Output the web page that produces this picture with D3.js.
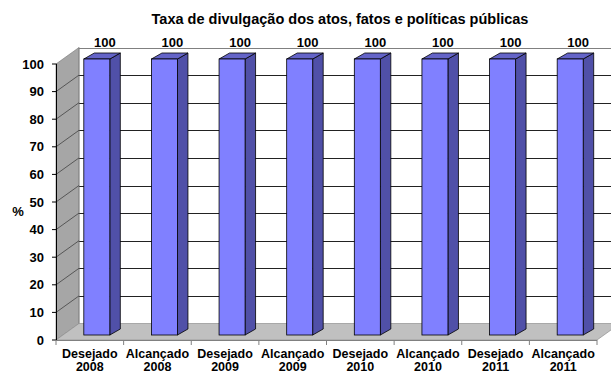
<!DOCTYPE html>
<html>
<head>
<meta charset="utf-8">
<script src="https://cdn.jsdelivr.net/npm/d3@7"></script>
<style>
  body { margin: 0; background: #fff; }
  text { font-family: "Liberation Sans", Arial, sans-serif; font-weight: bold; fill: #000; }
</style>
</head>
<body>
<div id="chart"></div>
<script>
// chart data
var categoryNames = ["Desejado", "Alcançado", "Desejado", "Alcançado", "Desejado", "Alcançado", "Desejado", "Alcançado"];
var categoryYears = ["2008", "2008", "2009", "2009", "2010", "2010", "2011", "2011"];
var values = [100, 100, 100, 100, 100, 100, 100, 100];
var yTicks = [0, 10, 20, 30, 40, 50, 60, 70, 80, 90, 100];
var title = "Taxa de divulgação dos atos, fatos e políticas públicas";

var width = 611, height = 371;
var depth = {x: 23, y: -16.5};      // wall depth
var barOff = {x: 7, y: -5};         // bar front face offset from front plane
var barDepth = {x: 10.5, y: -6};
var barW = 26;

var svg = d3.select("#chart").append("svg")
    .attr("width", width)
    .attr("height", height);

var x = d3.scaleBand()
    .domain(d3.range(values.length))
    .range([56, 597])
    .padding(0);

var y = d3.scaleLinear()
    .domain([0, 100])
    .range([340, 64]);

// title
svg.append("text")
    .attr("x", 340)
    .attr("y", 24)
    .attr("text-anchor", "middle")
    .style("font-size", "14.5px")
    .text(title);

// side wall
svg.append("path")
    .attr("d", "M" + x.range()[0] + "," + y(100) +
        "L" + (x.range()[0] + depth.x) + "," + (y(100) + depth.y) +
        "L" + (x.range()[0] + depth.x) + "," + (y(0) + depth.y) +
        "L" + x.range()[0] + "," + y(0) + "Z")
    .attr("fill", "#a6a6a6")
    .attr("stroke", "#808080")
    .attr("stroke-width", 0.7);

// floor
svg.append("path")
    .attr("d", "M" + x.range()[0] + "," + y(0) +
        "L" + x.range()[1] + "," + y(0) +
        "L" + (x.range()[1] + depth.x) + "," + (y(0) + depth.y) +
        "L" + (x.range()[0] + depth.x) + "," + (y(0) + depth.y) + "Z")
    .attr("fill", "#c0c0c0")
    .attr("stroke", "#909090")
    .attr("stroke-width", 0.7);

// back wall gridlines
svg.append("g").selectAll("line")
    .data(yTicks.filter(function(d) { return d > 0; }))
    .enter().append("line")
    .attr("x1", x.range()[0] + depth.x)
    .attr("x2", width)
    .attr("y1", function(d) { return Math.round(y(d) + depth.y) + 0.5; })
    .attr("y2", function(d) { return Math.round(y(d) + depth.y) + 0.5; })
    .attr("stroke", function(d) { return d === 100 ? "#808080" : "#222"; })
    .attr("stroke-width", 1);

// back wall left edge
svg.append("line")
    .attr("x1", x.range()[0] + depth.x).attr("x2", x.range()[0] + depth.x)
    .attr("y1", y(100) + depth.y).attr("y2", y(0) + depth.y)
    .attr("stroke", "#808080").attr("stroke-width", 0.7);

// diagonal lines on side wall
svg.append("g").selectAll("line")
    .data(yTicks.filter(function(d) { return d > 0 && d < 100; }))
    .enter().append("line")
    .attr("x1", x.range()[0])
    .attr("x2", x.range()[0] + depth.x)
    .attr("y1", function(d) { return y(d); })
    .attr("y2", function(d) { return y(d) + depth.y; })
    .attr("stroke", "#333")
    .attr("stroke-width", 0.7);

// front axes
svg.append("line")
    .attr("x1", 56.5).attr("x2", 56.5)
    .attr("y1", y(100)).attr("y2", y(0))
    .attr("stroke", "#000");
svg.append("g").selectAll("line")
    .data(yTicks)
    .enter().append("line")
    .attr("x1", 52).attr("x2", 56.5)
    .attr("y1", function(d) { return y(d); })
    .attr("y2", function(d) { return y(d); })
    .attr("stroke", "#000");
svg.append("line")
    .attr("x1", x.range()[0]).attr("x2", x.range()[1])
    .attr("y1", y(0) + 0.5).attr("y2", y(0) + 0.5)
    .attr("stroke", "#808080");
svg.append("g").selectAll("line")
    .data(d3.range(values.length + 1))
    .enter().append("line")
    .attr("x1", function(d) { return x.range()[0] + d * x.bandwidth(); })
    .attr("x2", function(d) { return x.range()[0] + d * x.bandwidth(); })
    .attr("y1", y(0)).attr("y2", y(0) + 5)
    .attr("stroke", "#808080");

// y tick labels
svg.append("g").selectAll("text")
    .data(yTicks)
    .enter().append("text")
    .attr("x", 44)
    .attr("y", function(d) { return y(d); })
    .attr("dy", "0.36em")
    .attr("text-anchor", "end")
    .style("font-size", "13px")
    .text(function(d) { return d; });

svg.append("text")
    .attr("x", 18)
    .attr("y", 216)
    .attr("text-anchor", "middle")
    .style("font-size", "13px")
    .text("%");

// bars
var bars = svg.append("g").selectAll("g")
    .data(values)
    .enter().append("g");

function fx(i) { return x(i) + (x.bandwidth() - barW) / 2 + barOff.x; }

bars.append("path") // side
    .attr("d", function(d, i) {
        var x0 = fx(i) + barW, yt = y(d) + barOff.y, yb = y(0) + barOff.y;
        return "M" + x0 + "," + yt + "L" + (x0 + barDepth.x) + "," + (yt + barDepth.y) +
            "L" + (x0 + barDepth.x) + "," + (yb + barDepth.y) + "L" + x0 + "," + yb + "Z";
    })
    .attr("fill", "#5050a8")
    .attr("stroke", "#000")
    .attr("stroke-width", 0.8);

bars.append("path") // top
    .attr("d", function(d, i) {
        var x0 = fx(i), yt = y(d) + barOff.y;
        return "M" + x0 + "," + yt + "L" + (x0 + barW) + "," + yt +
            "L" + (x0 + barW + barDepth.x) + "," + (yt + barDepth.y) +
            "L" + (x0 + barDepth.x) + "," + (yt + barDepth.y) + "Z";
    })
    .attr("fill", "#6464c8")
    .attr("stroke", "#000")
    .attr("stroke-width", 0.8);

bars.append("rect") // front
    .attr("x", function(d, i) { return fx(i); })
    .attr("y", function(d) { return y(d) + barOff.y; })
    .attr("width", barW)
    .attr("height", function(d) { return y(0) - y(d); })
    .attr("fill", "#8080ff")
    .attr("stroke", "#000")
    .attr("stroke-width", 0.8);

// value labels
bars.append("text")
    .attr("x", function(d, i) { return fx(i) + 21; })
    .attr("y", function(d) { return y(d) + barOff.y - 12; })
    .attr("text-anchor", "middle")
    .style("font-size", "13px")
    .text(function(d) { return d; });

// category labels
var cats = svg.append("g").selectAll("text")
    .data(categoryNames)
    .enter().append("text")
    .attr("text-anchor", "middle")
    .style("font-size", "12.5px");
cats.append("tspan")
    .attr("x", function(d, i) { return x(i) + x.bandwidth() / 2; })
    .attr("y", 358)
    .text(function(d) { return d; });
cats.append("tspan")
    .attr("x", function(d, i) { return x(i) + x.bandwidth() / 2; })
    .attr("y", 371)
    .text(function(d, i) { return categoryYears[i]; });
</script>
</body>
</html>
